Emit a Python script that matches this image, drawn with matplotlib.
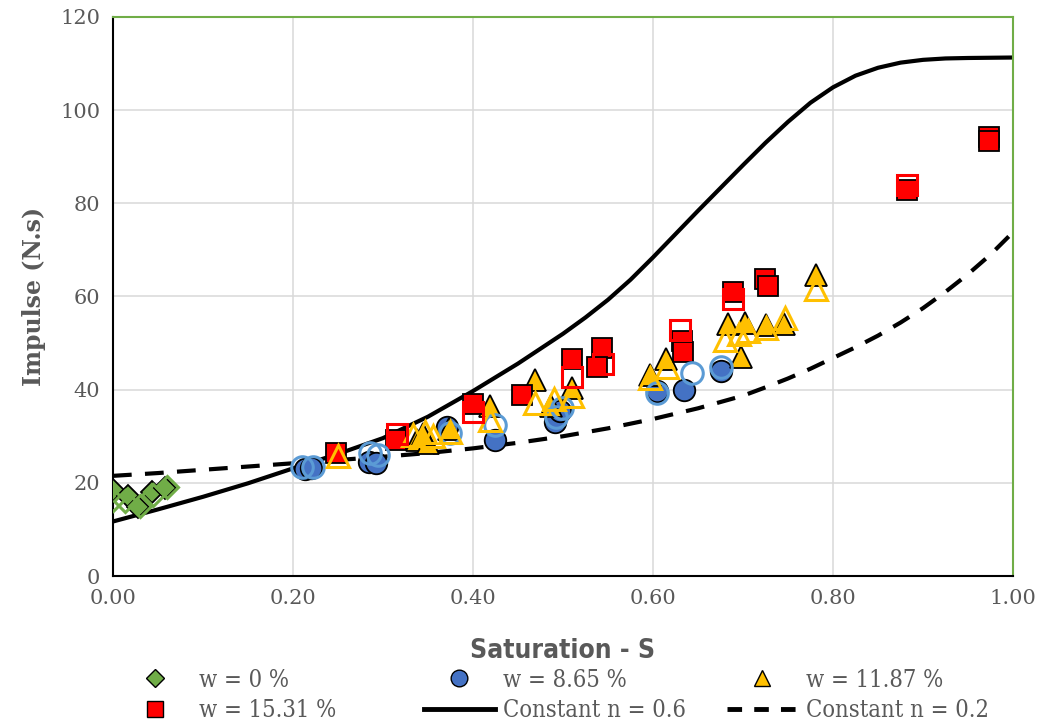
import matplotlib.pyplot as plt
from matplotlib.lines import Line2D

# ------------------------- Data -------------------------
# model curves, read at fixed saturation steps
s06 = [0.00, 0.05, 0.10, 0.15, 0.20, 0.25, 0.30, 0.35, 0.40, 0.45, 0.50, 0.525,
       0.55, 0.575, 0.60, 0.625, 0.65, 0.675, 0.70, 0.725, 0.75, 0.775, 0.80,
       0.825, 0.85, 0.875, 0.90, 0.925, 0.95, 1.00]
n06 = [11.7, 14.3, 17.0, 19.9, 23.1, 26.2, 29.6, 34.2, 39.7, 45.6, 52.0, 55.5,
       59.3, 63.6, 68.4, 73.4, 78.4, 83.3, 88.2, 93.0, 97.5, 101.6, 104.9,
       107.4, 109.1, 110.2, 110.8, 111.1, 111.2, 111.3]
s02 = [0.00, 0.05, 0.10, 0.15, 0.20, 0.25, 0.30, 0.35, 0.40, 0.45, 0.50, 0.55,
       0.60, 0.65, 0.70, 0.725, 0.75, 0.775, 0.80, 0.825, 0.85, 0.875, 0.90,
       0.925, 0.95, 0.975, 1.00]
n02 = [21.5, 22.1, 22.8, 23.5, 24.2, 24.9, 25.6, 26.4, 27.4, 28.6, 30.0, 31.7,
       33.7, 36.0, 38.7, 40.5, 42.4, 44.5, 46.8, 49.1, 51.6, 54.4, 57.5,
       61.0, 64.8, 69.0, 73.8]

# w = 0 %
w0_s = [0.000, 0.017, 0.028, 0.043, 0.058]
w0_i = [18.5, 17.2, 14.8, 18.0, 18.8]
w0h_s = [0.000, 0.013, 0.030, 0.045, 0.060]
w0h_i = [16.3, 16.0, 15.0, 17.4, 19.2]

# w = 8.65 %
w865_s = [0.213, 0.220, 0.284, 0.292, 0.371, 0.424, 0.491, 0.497, 0.604, 0.634, 0.676]
w865_i = [23.0, 23.2, 24.5, 24.3, 32.0, 29.2, 33.0, 35.5, 39.8, 39.9, 44.0]
w865h_s = [0.210, 0.222, 0.286, 0.294, 0.374, 0.424, 0.492, 0.499, 0.604, 0.643, 0.676]
w865h_i = [23.5, 23.5, 26.3, 26.0, 30.7, 32.5, 34.2, 36.0, 39.3, 43.5, 44.8]

# w = 11.87 %
w1187_s = [0.338, 0.350, 0.345, 0.373, 0.419, 0.469, 0.487, 0.510, 0.597, 0.614,
           0.683, 0.702, 0.698, 0.726, 0.745, 0.781]
w1187_i = [29.3, 28.6, 30.5, 31.5, 36.5, 42.0, 36.5, 40.3, 43.2, 46.5,
           54.0, 54.4, 47.0, 53.8, 54.1, 64.7]
w1187h_s = [0.250, 0.333, 0.347, 0.356, 0.375, 0.419, 0.469, 0.490, 0.510, 0.597,
            0.615, 0.680, 0.695, 0.705, 0.726, 0.747, 0.781]
w1187h_i = [25.8, 30.2, 31.0, 30.0, 31.0, 33.5, 37.1, 38.0, 38.7, 42.5,
            44.8, 50.7, 52.0, 52.5, 53.3, 55.3, 61.7]

# w = 15.31 %
w1531_s = [0.248, 0.315, 0.400, 0.454, 0.510, 0.543, 0.538, 0.632, 0.633,
           0.689, 0.724, 0.728, 0.882, 0.973, 0.973]
w1531_i = [26.3, 29.3, 37.0, 38.9, 46.5, 48.9, 44.8, 50.5, 48.0,
           61.0, 63.8, 62.3, 82.8, 94.2, 93.3]
w1531h_s = [0.316, 0.400, 0.510, 0.545, 0.630, 0.689, 0.882]
w1531h_i = [30.5, 35.3, 42.8, 45.5, 52.8, 59.5, 84.0]

xticks = [0.0, 0.2, 0.4, 0.6, 0.8, 1.0]
yticks = [0, 20, 40, 60, 80, 100, 120]

GREEN = "#70AD47"
BLUE = "#4472C4"
LBLUE = "#5B9BD5"
GOLD = "#FFC000"
RED = "#FF0000"
GREY = "#595959"

# ------------------------- Plot -------------------------
fig, ax = plt.subplots(figsize=(10.42, 7.26), dpi=100)
fig.subplots_adjust(left=0.1084, right=0.9722, bottom=0.2066, top=0.9766)

ax.plot(s06, n06, color="black", linewidth=3, zorder=2)
ax.plot(s02, n02, color="black", linewidth=3, dashes=(4.5, 3.2), zorder=2)

# filled markers (black edge)
ax.plot(w0_s, w0_i, "D", ms=11, mfc=GREEN, mec="black", mew=1.3, ls="none", zorder=3)
ax.plot(w865_s, w865_i, "o", ms=15.5, mfc=BLUE, mec="black", mew=1.3, ls="none", zorder=3)
ax.plot(w1187_s, w1187_i, "^", ms=16, mfc=GOLD, mec="black", mew=1.3, ls="none", zorder=3)
ax.plot(w1531_s, w1531_i, "s", ms=14.5, mfc=RED, mec="black", mew=1.3, ls="none", zorder=3)

# hollow markers
ax.plot(w0h_s, w0h_i, "D", ms=11, mfc="none", mec=GREEN, mew=2.2, ls="none", zorder=4)
ax.plot(w865h_s, w865h_i, "o", ms=15.5, mfc="none", mec=LBLUE, mew=2.2, ls="none", zorder=4)
ax.plot(w1187h_s, w1187h_i, "^", ms=16, mfc="none", mec=GOLD, mew=2.2, ls="none", zorder=4)
ax.plot(w1531h_s, w1531h_i, "s", ms=14.5, mfc="none", mec=RED, mew=2.2, ls="none", zorder=4)

ax.set_xlim(0, 1)
ax.set_ylim(0, 120)
ax.set_xticks(xticks)
ax.set_xticklabels([f"{t:.2f}" for t in xticks])
ax.set_yticks(yticks)
ax.tick_params(length=0, labelsize=15, labelcolor=GREY, pad=9)
for lab in ax.get_xticklabels() + ax.get_yticklabels():
    lab.set_family("DejaVu Serif")
ax.grid(True, color="#D9D9D9", linewidth=1.1)
ax.set_axisbelow(True)

for side in ["left", "bottom"]:
    ax.spines[side].set_color("black")
    ax.spines[side].set_linewidth(1.5)
for side in ["top", "right"]:
    ax.spines[side].set_color(GREEN)
    ax.spines[side].set_linewidth(1.5)

ax.set_ylabel("Impulse (N.s)", fontsize=17, fontweight="bold", color=GREY,
              family="DejaVu Serif", labelpad=10)
ax.set_xlabel("Saturation - S", fontsize=19, color=GREY, family="DejaVu Sans",
              fontstretch="condensed", fontweight="bold", labelpad=22)

# legend: three columns of equal width, each its own legend
leg_font = {"family": "DejaVu Serif", "stretch": "condensed", "size": 17}
columns = [
    ([Line2D([], [], marker="D", ms=9, mfc=GREEN, mec="black", ls="none"),
      Line2D([], [], marker="s", ms=11, mfc=RED, mec="black", ls="none")],
     ["w = 0 %", "w = 15.31 %"], 120),
    ([Line2D([], [], marker="o", ms=12, mfc=BLUE, mec="black", ls="none"),
      Line2D([], [], color="black", linewidth=3.5)],
     ["w = 8.65 %", "Constant n = 0.6"], 424),
    ([Line2D([], [], marker="^", ms=12, mfc=GOLD, mec="black", ls="none"),
      Line2D([], [], color="black", linewidth=3.5, dashes=(3, 2.5))],
     ["w = 11.87 %", "Constant n = 0.2"], 727),
]
for hs, ls, x0 in columns:
    leg = fig.legend(hs, ls, loc="center left", bbox_to_anchor=(x0 / 1042, 0.042),
                     frameon=False, prop=leg_font, handlelength=3.0, handletextpad=0.35,
                     labelspacing=0.33, borderpad=0, borderaxespad=0)
    for t in leg.get_texts():
        t.set_color(GREY)

plt.savefig("out.png", dpi=100)
